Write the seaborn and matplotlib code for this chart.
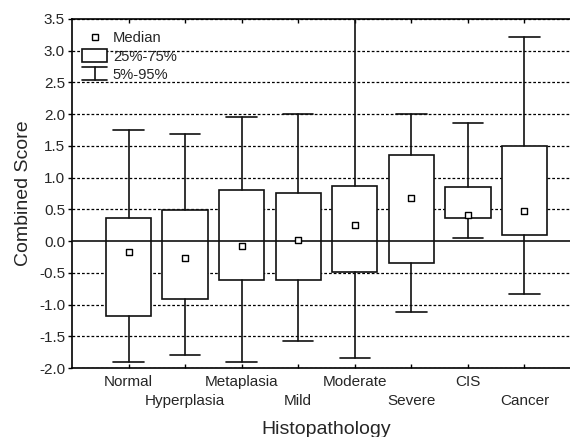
import matplotlib
matplotlib.use("Agg")
import matplotlib.pyplot as plt
from matplotlib.lines import Line2D
from matplotlib.patches import Patch
from matplotlib.legend_handler import HandlerBase
import seaborn as sns

sns.set_theme(style="ticks")
plt.rcParams["font.family"] = ["Liberation Sans", "DejaVu Sans"]

# Combined score by histopathology grade: median, quartiles, 5th/95th percentiles
categories = ["Normal", "Hyperplasia", "Metaplasia", "Mild",
              "Moderate", "Severe", "CIS", "Cancer"]
median = [-0.17, -0.27, -0.08, 0.02, 0.26, 0.68, 0.41, 0.48]
q25 = [-1.18, -0.91, -0.61, -0.61, -0.48, -0.34, 0.37, 0.10]
q75 = [0.36, 0.49, 0.80, 0.75, 0.87, 1.36, 0.86, 1.50]
p05 = [-1.90, -1.80, -1.90, -1.58, -1.85, -1.12, 0.05, -0.84]
p95 = [1.75, 1.68, 1.95, 2.00, 3.60, 2.00, 1.86, 3.22]
yticks = [-2.0, -1.5, -1.0, -0.5, 0.0, 0.5, 1.0, 1.5, 2.0, 2.5, 3.0, 3.5]

W, H = 570, 437
fig = plt.figure(figsize=(W / 100, H / 100), dpi=100)
ax = fig.add_axes([72 / W, 1 - 368 / H, 509 / W, 349 / H])

positions = list(range(1, len(categories) + 1))
stats = [dict(med=m, q1=a, q3=b, whislo=lo, whishi=hi, fliers=[], label=c)
         for c, m, a, b, lo, hi in zip(categories, median, q25, q75, p05, p95)]

lw = 1.2
ax.bxp(stats, positions=positions, widths=0.8, capwidths=0.54,
       patch_artist=True, showfliers=False, manage_ticks=False,
       boxprops=dict(facecolor="white", edgecolor="#111111", linewidth=lw),
       whiskerprops=dict(color="#111111", linewidth=lw),
       capprops=dict(color="#111111", linewidth=lw),
       medianprops=dict(visible=False), zorder=3)

sns.scatterplot(x=positions, y=median, marker="s", s=16, color="white",
                edgecolor="black", linewidth=1.0, zorder=6, ax=ax, legend=False)

# dashed reference lines, solid at zero
for yv in yticks:
    if yv == 0.0:
        ax.axhline(yv, color="#111111", linewidth=lw, zorder=4)
    else:
        ax.axhline(yv, color="black", linewidth=0.9, linestyle=(0, (2.2, 1.6)),
                   zorder=1)

ax.set_xlim(0, 9)
ax.set_ylim(-2.0, 3.5)
ax.set_yticks(yticks)
ax.set_yticklabels([f"{v:.1f}" for v in yticks], fontsize=11)
ax.set_xticks(positions)
ax.set_xticklabels(categories, fontsize=11)
ax.tick_params(axis="x", direction="in", length=3, width=1, top=True, pad=5,
               color="black")
ax.tick_params(axis="y", direction="out", length=3, width=1, pad=2, color="black")
for i, tick in enumerate(ax.xaxis.get_major_ticks()):
    if i % 2 == 1:
        tick.set_pad(19)

for s in ax.spines.values():
    s.set_color("black")
    s.set_linewidth(1.2)

ax.set_xlabel("Histopathology", fontsize=14, labelpad=9)
ax.set_ylabel("Combined Score", fontsize=14, labelpad=5)


class WhiskerHandler(HandlerBase):
    def create_artists(self, legend, orig_handle, xdescent, ydescent,
                       width, height, fontsize, trans):
        x0, y0 = -xdescent, -ydescent
        xm = x0 + width / 2
        top, bot = y0 + height, y0
        arts = [Line2D([x0, x0 + width], [top, top]),
                Line2D([xm, xm], [bot, top]),
                Line2D([x0, x0 + width], [bot, bot])]
        for a in arts:
            a.set_color("#111111")
            a.set_linewidth(lw)
            a.set_transform(trans)
        return arts


med_h = Line2D([], [], marker="s", linestyle="none", markersize=4,
               markerfacecolor="white", markeredgecolor="black",
               markeredgewidth=1.0)
box_h = Patch(facecolor="white", edgecolor="#111111", linewidth=lw)
whisk_h = object()
ax.legend([med_h, box_h, whisk_h], ["Median", "25%-75%", "5%-95%"],
          handler_map={object: WhiskerHandler()},
          loc="upper left", bbox_to_anchor=(10 / 509, 1 - 12 / 349),
          borderpad=0, borderaxespad=0, frameon=False, fontsize=10.6,
          handlelength=1.7, handleheight=0.95, handletextpad=0.4,
          labelspacing=0.26)

fig.savefig("out.png", dpi=100)
